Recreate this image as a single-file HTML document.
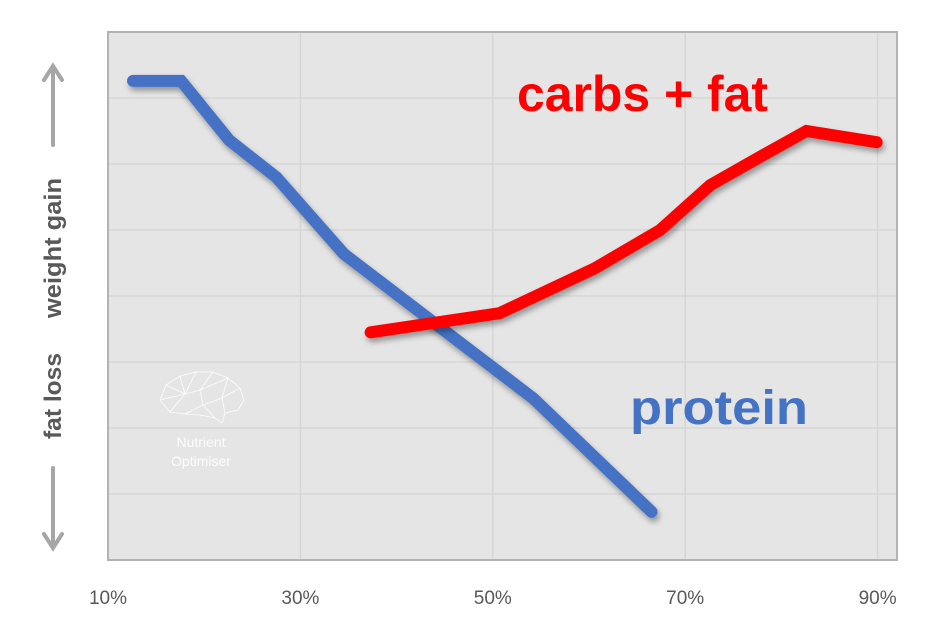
<!DOCTYPE html>
<html><head><meta charset="utf-8"><style>
html,body{margin:0;padding:0;background:#fff;}
svg{display:block;font-family:"Liberation Sans",sans-serif;}
</style></head><body>
<svg id="chart" width="933" height="639" viewBox="0 0 933 639">
<defs>
<filter id="sh" x="-10%" y="-10%" width="120%" height="130%"><feDropShadow dx="2" dy="4" stdDeviation="3" flood-color="#000" flood-opacity="0.35"/></filter>
</defs>
<rect x="108" y="32" width="789" height="528" fill="#e5e5e5" stroke="#b3b3b3" stroke-width="2"/>
<g id="grid"></g>
<g id="xticks"></g>
<g stroke="#fff" stroke-width="0.8" fill="none" opacity="0.9">
<path d="M160,400 L166,385 L180,376 L196,372 L213,372 L228,378 L240,388 L244,400 L238,410 L225,413 L222,423 L215,418 L200,415 L185,414 L170,412 Z M166,385 L185,394 L196,372 M185,394 L180,376 M185,394 L200,390 L213,372 M200,390 L228,378 M200,390 L203,405 L185,414 M203,405 L222,398 L240,388 M222,398 L228,378 M222,398 L225,413 M160,400 L185,394 L170,412 M203,405 L215,418"/>
</g>
<text x="201" y="447" text-anchor="middle" font-size="14" fill="#fff" opacity="0.9">Nutrient</text>
<text x="201" y="466" text-anchor="middle" font-size="14" fill="#fff" opacity="0.9">Optimiser</text>
<g id="series"></g>
<text x="517" y="111" font-size="50" font-weight="bold" fill="#ff0000" textLength="251" lengthAdjust="spacingAndGlyphs">carbs + fat</text>
<text x="630" y="424" font-size="48" font-weight="bold" fill="#4472c4" textLength="178" lengthAdjust="spacingAndGlyphs">protein</text>
<g stroke="#a6a6a6" stroke-width="4" fill="none" stroke-linecap="round">
<path d="M53,145 L53,66 M44,80 L53,66 L62,80"/>
<path d="M53,468 L53,548 M44,534 L53,548 L62,534"/>
</g>
<text transform="translate(61,248) rotate(-90)" text-anchor="middle" font-size="24" font-weight="bold" fill="#595959" textLength="140" lengthAdjust="spacingAndGlyphs">weight gain</text>
<text transform="translate(61,396) rotate(-90)" text-anchor="middle" font-size="24" font-weight="bold" fill="#595959" textLength="86" lengthAdjust="spacingAndGlyphs">fat loss</text>
</svg>
<script>
const xTicks=[10,30,50,70,90];
const xTickLabels=["10%","30%","50%","70%","90%"];
const yGrid=[1,2,3,4,5,6,7];
const proteinX=[12.6,17.6,22.6,27.5,34.5,44.2,54.2,66.5];
const proteinY=[7.26,7.26,6.36,5.80,4.64,3.56,2.45,0.73];
const carbsX=[37.3,50.7,60.6,67.4,72.6,77.8,82.6,89.9];
const carbsY=[3.45,3.74,4.42,5.0,5.68,6.11,6.5,6.33];
const NS='http://www.w3.org/2000/svg';
const X=v=>108+(v-10)*9.62;
const Y=v=>560-v*66;
const grid=document.getElementById('grid');
yGrid.forEach(v=>{const l=document.createElementNS(NS,'line');


l.setAttribute('x1',109);l.setAttribute('x2',896);l.setAttribute('y1',Y(v));l.setAttribute('y2',Y(v));
l.setAttribute('stroke','#d6d6d6');l.setAttribute('stroke-width','1.5');grid.appendChild(l);});
const xt=document.getElementById('xticks');
xTicks.forEach((v,i)=>{
if(i>0){const l=document.createElementNS(NS,'line');


l.setAttribute('x1',X(v));l.setAttribute('x2',X(v));l.setAttribute('y1',33);l.setAttribute('y2',559);
l.setAttribute('stroke','#d6d6d6');l.setAttribute('stroke-width','1.5');grid.appendChild(l);}
const t=document.createElementNS(NS,'text');


t.setAttribute('x',X(v));t.setAttribute('y',604);t.setAttribute('text-anchor','middle');
t.setAttribute('font-size','19');t.setAttribute('fill','#595959');t.textContent=xTickLabels[i];xt.appendChild(t);});
const s=document.getElementById('series');
function line(xs,ys,col,name){const p=document.createElementNS(NS,'polyline');


p.setAttribute('points',xs.map((x,i)=>X(x)+','+Y(ys[i])).join(' '));
p.setAttribute('fill','none');p.setAttribute('stroke',col);p.setAttribute('stroke-width','12');
p.setAttribute('stroke-linecap','round');p.setAttribute('filter','url(#sh)');s.appendChild(p);}
line(proteinX,proteinY,'#4472c4','protein-line');
line(carbsX,carbsY,'#ff0000','carbs-fat-line');
</script>
</body></html>
